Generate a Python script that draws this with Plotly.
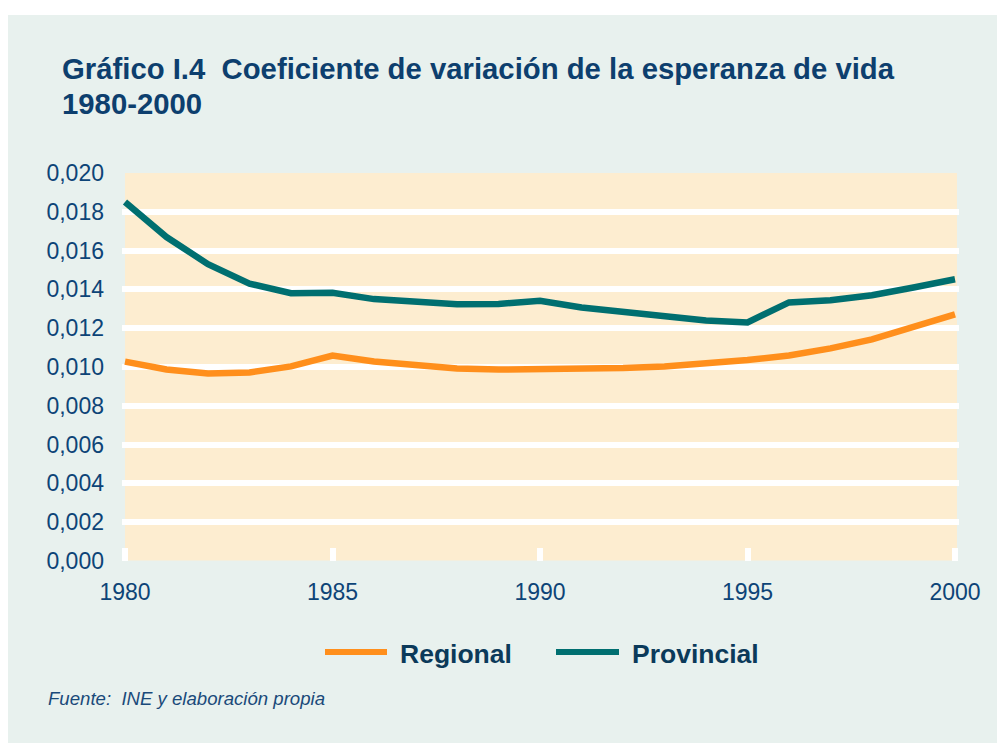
import plotly.graph_objects as go

years = list(range(1980, 2001))
regional = [0.01028, 0.00987, 0.00966, 0.00972, 0.01003, 0.01059, 0.01028, 0.01008,
            0.00992, 0.00987, 0.00987, 0.00990, 0.00995, 0.01003, 0.01018, 0.01036,
            0.01059, 0.01096, 0.01142, 0.01204, 0.01271]
provincial = [0.0185, 0.0167, 0.0153, 0.0143, 0.0138, 0.01383, 0.0135, 0.01333,
              0.01323, 0.01325, 0.01341, 0.01307, 0.01282, 0.0126, 0.0124, 0.0123,
              0.01333, 0.01344, 0.0137, 0.0141, 0.01452]
series_names = ["Regional", "Provincial"]
series_colors = ["#FF8F1C", "#006F70"]
x_ticks = [1980, 1985, 1990, 1995, 2000]
y_ticks = [0.000, 0.002, 0.004, 0.006, 0.008, 0.010, 0.012, 0.014, 0.016, 0.018, 0.020]

title_lines = ["Gráfico I.4  Coeficiente de variación de la esperanza de vida", "1980-2000"]
source_text = "Fuente:  INE y elaboración propia"

# page body has an 8px margin: figure is placed at (8, 8)
OFF = 8
W, H = 1005 - OFF, 743 - OFF
L, R, T, B = 114, 46, 165, 182
PW, PH = W - L - R, H - T - B


def px(xs):
    """screen x pixel -> paper x"""
    return (xs - OFF - L) / PW


def py(ys):
    """screen y pixel -> paper y"""
    return (H - B - (ys - OFF)) / PH


TEXT_BLUE = "#0D4477"
FONT = "Liberation Sans, Arial, sans-serif"

fig = go.Figure()
for name, vals, col in zip(series_names, [regional, provincial], series_colors):
    fig.add_trace(go.Scatter(x=years, y=vals, mode="lines", name=name,
                             line=dict(color=col, width=6.5), showlegend=False))

shapes = [
    # outer panel
    dict(type="rect", xref="paper", yref="paper", x0=px(7), x1=px(1010), y0=py(750), y1=py(15),
         fillcolor="#E8F1EE", line=dict(width=0), layer="below"),
    # plot area
    dict(type="rect", xref="paper", yref="paper", x0=px(125), x1=px(957), y0=py(560.5), y1=py(173),
         fillcolor="#FDEDD0", line=dict(width=0), layer="below"),
]

annotations = [
    dict(text="<i>" + source_text + "</i>", xref="paper", yref="paper", x=px(46), y=py(698),
         xanchor="left", yanchor="middle", showarrow=False,
         font=dict(family=FONT, size=18.6, color="#1A4A7A")),
]
for i, (line, ytop) in enumerate(zip(title_lines, [50, 85])):
    annotations.append(dict(text="<b>" + line + "</b>", xref="paper", yref="paper",
                            x=px(60), y=py(ytop), xanchor="left", yanchor="top",
                            showarrow=False,
                            font=dict(family=FONT, size=29.3, color="#0D3F6E")))

# custom legend
leg = [(325, 387, 398), (556, 619, 630)]
for (x0, x1, xt), name, col in zip(leg, series_names, series_colors):
    shapes.append(dict(type="line", xref="paper", yref="paper", x0=px(x0), x1=px(x1),
                       y0=py(652), y1=py(652), line=dict(color=col, width=6)))
    annotations.append(dict(text="<b>" + name + "</b>", xref="paper", yref="paper",
                            x=px(xt), y=py(654), xanchor="left", yanchor="middle",
                            showarrow=False,
                            font=dict(family=FONT, size=26.5, color="#0B3A5A")))

# x range so that 1980 sits at screen x=125 and 2000 at x=955
x0s, x1s = 122, 959
ppy = (955 - 125) / 20.0
xr = [1980 - (125 - x0s) / ppy, 2000 + (x1s - 955) / ppy]

fig.update_layout(
    width=W, height=H,
    margin=dict(l=L, r=R, t=T, b=B, pad=0),
    paper_bgcolor="white",
    plot_bgcolor="rgba(0,0,0,0)",
    separators=",.",
    shapes=shapes,
    annotations=annotations,
    xaxis=dict(range=xr, tickvals=x_ticks, ticktext=[str(v) for v in x_ticks],
               showgrid=False, zeroline=False, showline=False,
               ticks="inside", ticklen=13, tickwidth=6, tickcolor="white",
               ticklabelstandoff=15,
               tickfont=dict(family=FONT, size=23, color=TEXT_BLUE)),
    yaxis=dict(range=[0, 0.020], tickvals=y_ticks, tickformat=".3f",
               showgrid=True, gridcolor="white", gridwidth=6,
               zeroline=False, showline=False, ticks="",
               ticklabelstandoff=17,
               tickfont=dict(family=FONT, size=23, color=TEXT_BLUE)),
)

fig.write_html("out.html")
